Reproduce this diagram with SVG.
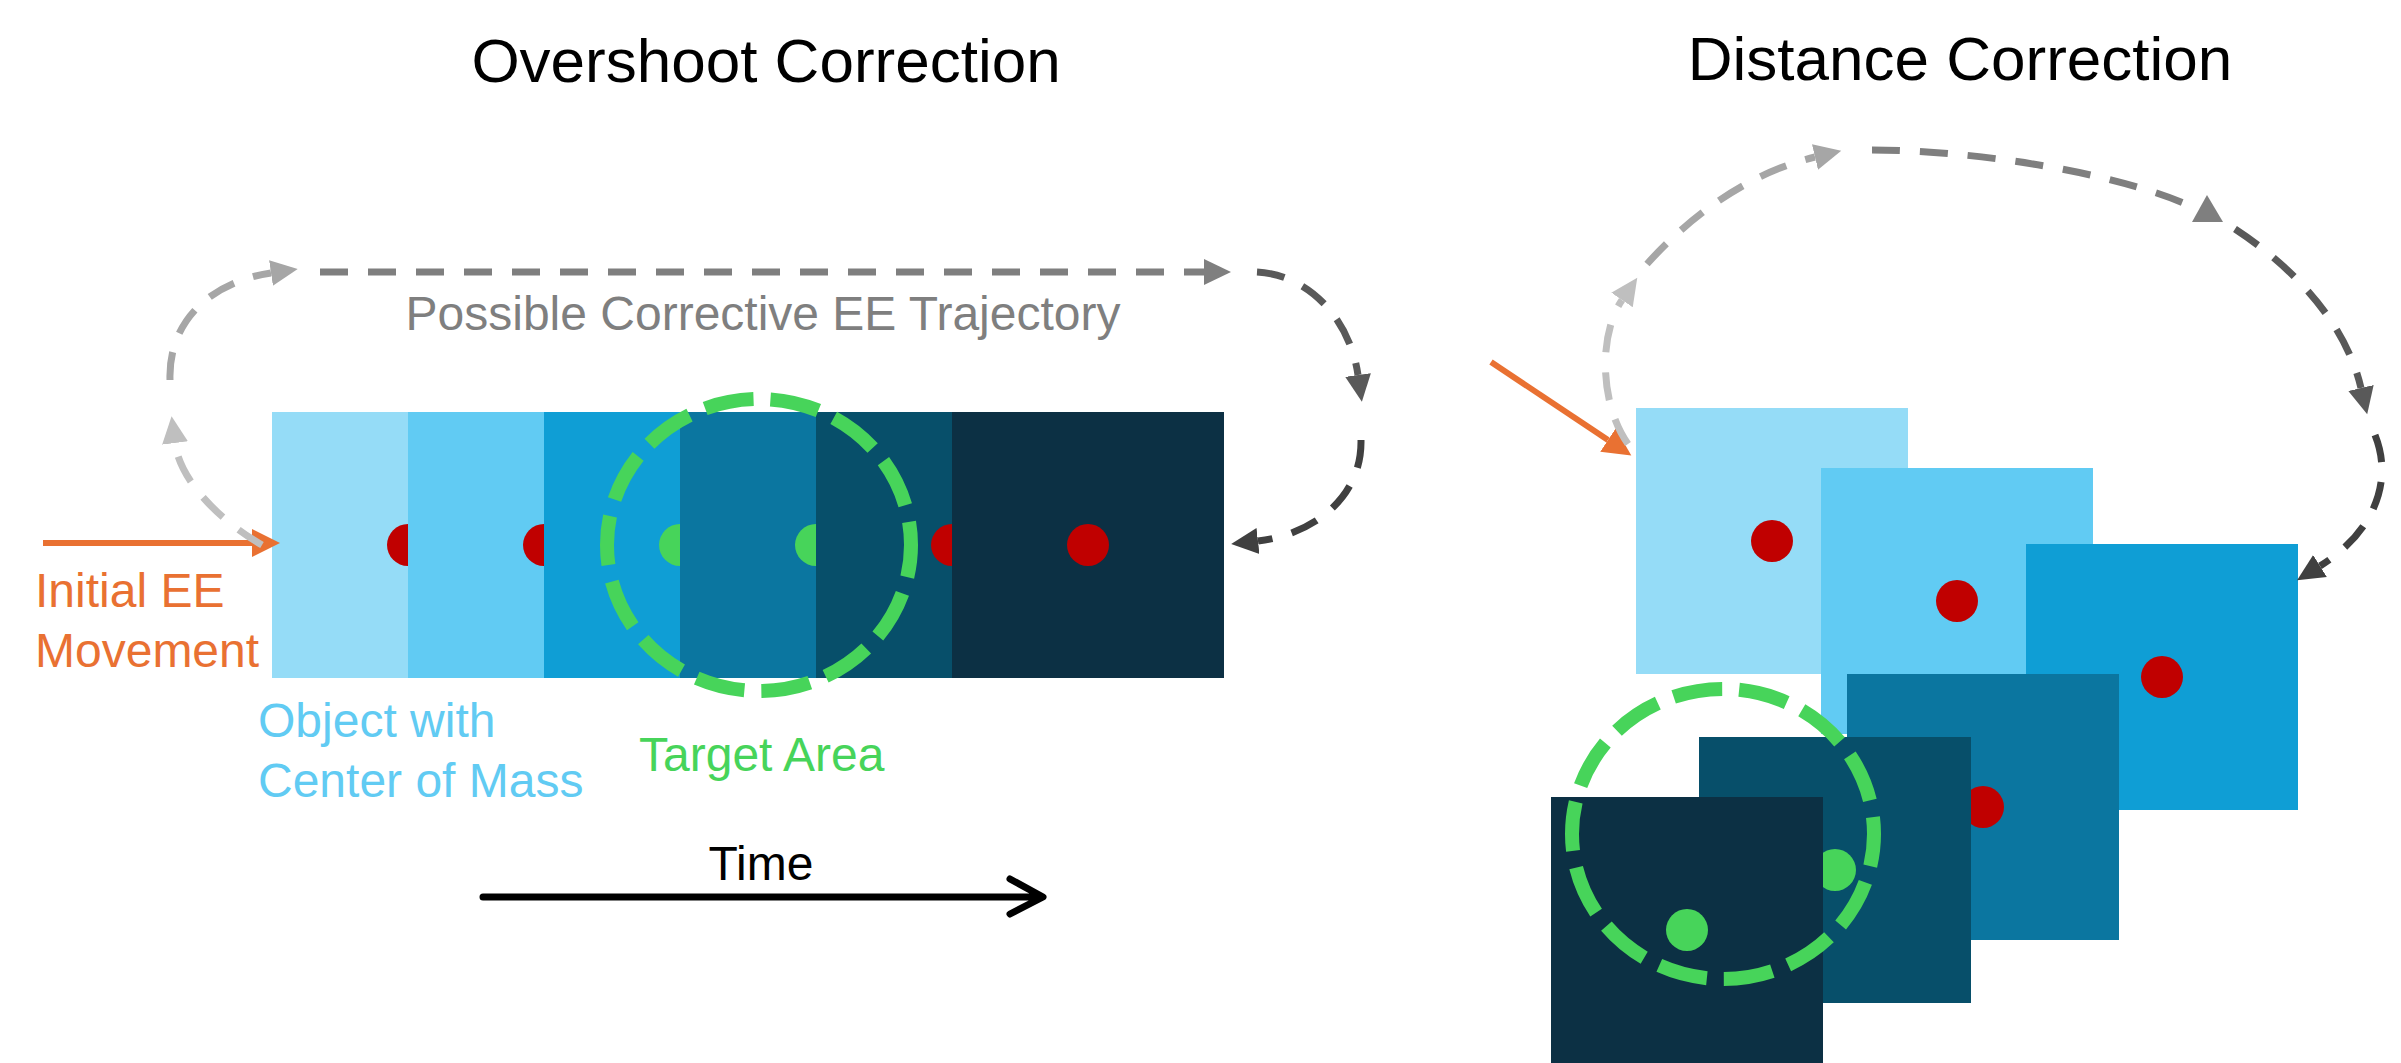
<svg xmlns="http://www.w3.org/2000/svg" width="2401" height="1063" viewBox="0 0 2401 1063">
<style>
  text { font-family: "Liberation Sans", Arial, sans-serif; }
  .title { font-size: 62px; fill: #000; text-anchor: middle; }
  .lbl { font-size: 48px; }
  .c1 { fill: #95DCF7; } .c2 { fill: #61CBF3; } .c3 { fill: #0F9ED5; }
  .c4 { fill: #0B76A0; } .c5 { fill: #074F6A; } .c6 { fill: #0C3044; }
  .red { fill: #C00000; } .grn { fill: #47D45A; }
  .target { fill: none; stroke: #47D45A; stroke-width: 14; stroke-dasharray: 49.4 17; stroke-dashoffset: 17; }
  .traj { fill: none; stroke-width: 7; stroke-dasharray: 28 20; }
  .g1 { stroke: #BFBFBF; } .g2 { stroke: #A6A6A6; } .g3 { stroke: #7F7F7F; } .g4 { stroke: #595959; } .g5 { stroke: #404040; }
  .orange { fill: none; stroke: #E97132; stroke-width: 6; }
</style>
<defs>
  <marker id="aG1" markerUnits="userSpaceOnUse" viewBox="0 -14 28 28" refX="0" refY="0" markerWidth="28" markerHeight="28" orient="auto"><path d="M0,-13 L27,0 L0,13 z" fill="#BFBFBF"/></marker>
  <marker id="aG2" markerUnits="userSpaceOnUse" viewBox="0 -14 28 28" refX="0" refY="0" markerWidth="28" markerHeight="28" orient="auto"><path d="M0,-13 L27,0 L0,13 z" fill="#A6A6A6"/></marker>
  <marker id="aG3" markerUnits="userSpaceOnUse" viewBox="0 -14 28 28" refX="0" refY="0" markerWidth="28" markerHeight="28" orient="auto"><path d="M0,-13 L27,0 L0,13 z" fill="#7F7F7F"/></marker>
  <marker id="aG4" markerUnits="userSpaceOnUse" viewBox="0 -14 28 28" refX="0" refY="0" markerWidth="28" markerHeight="28" orient="auto"><path d="M0,-13 L27,0 L0,13 z" fill="#595959"/></marker>
  <marker id="aG5" markerUnits="userSpaceOnUse" viewBox="0 -14 28 28" refX="0" refY="0" markerWidth="28" markerHeight="28" orient="auto"><path d="M0,-13 L27,0 L0,13 z" fill="#404040"/></marker>
  <marker id="aOr" markerUnits="userSpaceOnUse" viewBox="0 -15 30 30" refX="0" refY="0" markerWidth="30" markerHeight="30" orient="auto"><path d="M0,-14 L28,0 L0,14 z" fill="#E97132"/></marker>
</defs>
<rect width="2401" height="1063" fill="#FFFFFF"/>

<!-- Titles -->
<text id="title-overshoot" class="title" x="766" y="82">Overshoot Correction</text>
<text id="title-distance" class="title" x="1960" y="80">Distance Correction</text>

<!-- Overshoot panel objects -->
<g id="ov-obj1"><rect class="c1" x="272" y="412" width="272" height="266"/><circle class="red" cx="408" cy="545" r="21"/></g>
<g id="ov-obj2"><rect class="c2" x="408" y="412" width="272" height="266"/><circle class="red" cx="544" cy="545" r="21"/></g>
<g id="ov-obj3"><rect class="c3" x="544" y="412" width="272" height="266"/><circle class="grn" cx="680" cy="545" r="21"/></g>
<g id="ov-obj4"><rect class="c4" x="680" y="412" width="272" height="266"/><circle class="grn" cx="816" cy="545" r="21"/></g>
<g id="ov-obj5"><rect class="c5" x="816" y="412" width="272" height="266"/><circle class="red" cx="952" cy="545" r="21"/></g>
<g id="ov-obj6"><rect class="c6" x="952" y="412" width="272" height="266"/><circle class="red" cx="1088" cy="545" r="21"/></g>
<g id="ov-target"><ellipse class="target" cx="759" cy="545" rx="152" ry="146"/></g>

<!-- Distance panel objects -->
<g id="di-obj1"><rect class="c1" x="1636" y="408" width="272" height="266"/><circle class="red" cx="1772" cy="541" r="21"/></g>
<g id="di-obj2"><rect class="c2" x="1821" y="468" width="272" height="266"/><circle class="red" cx="1957" cy="601" r="21"/></g>
<g id="di-obj3"><rect class="c3" x="2026" y="544" width="272" height="266"/><circle class="red" cx="2162" cy="677" r="21"/></g>
<g id="di-obj4"><rect class="c4" x="1847" y="674" width="272" height="266"/><circle class="red" cx="1983" cy="807" r="21"/></g>
<g id="di-obj5"><rect class="c5" x="1699" y="737" width="272" height="266"/><circle class="grn" cx="1835" cy="870" r="21"/></g>
<g id="di-obj6"><rect class="c6" x="1551" y="797" width="272" height="266"/><circle class="grn" cx="1687" cy="930" r="21"/></g>
<g id="di-target"><ellipse class="target" cx="1723" cy="834" rx="151" ry="145"/></g>

<!-- Labels -->
<g id="lbl-initial"><text class="lbl" x="35" y="607" fill="#E97132">Initial EE</text><text class="lbl" x="35" y="667" fill="#E97132">Movement</text></g>
<g id="lbl-object"><text class="lbl" x="258" y="737" fill="#61CBF3">Object with</text><text class="lbl" x="258" y="797" fill="#61CBF3">Center of Mass</text></g>
<text id="lbl-target" class="lbl" x="639" y="771" fill="#47D45A">Target Area</text>
<text id="lbl-traj" class="lbl" x="763" y="330" fill="#7F7F7F" text-anchor="middle">Possible Corrective EE Trajectory</text>
<text id="lbl-time" class="lbl" x="761" y="880" fill="#000" text-anchor="middle">Time</text>

<!-- Connectors -->
<g id="connectors">
  <!-- overshoot -->
  <path class="orange" d="M43,543 L252,543" marker-end="url(#aOr)"/>
  <path class="traj g1" d="M262,545 C222,522 180,482 175,443" marker-end="url(#aG1)"/>
  <path class="traj g2" d="M170,380 C168,322 210,282 271,273" marker-end="url(#aG2)"/>
  <path class="traj g3" d="M320,272 L1204,272" marker-end="url(#aG3)"/>
  <path class="traj g4" d="M1257,272 C1310,275 1350,320 1358,375" marker-end="url(#aG4)"/>
  <path class="traj g5" d="M1361,440 C1362,500 1310,535 1258,541" marker-end="url(#aG5)"/>
  <path d="M483,897 L1040,897 M1010,879 L1043,897 L1010,914" fill="none" stroke="#000" stroke-width="7" stroke-linecap="round" stroke-linejoin="round"/>
  <!-- distance -->
  <path class="orange" d="M1491,362 L1608,440" marker-end="url(#aOr)"/>
  <path class="traj g1" d="M1628,444 C1600,405 1598,335 1622,300" marker-end="url(#aG1)"/>
  <path class="traj g2" d="M1647,264 C1700,205 1760,170 1815,157" marker-end="url(#aG2)"/>
  <path class="traj g3" d="M1872,150 C1960,150 2100,168 2186,204"/>
  <path d="M2207,195 L2192,222 L2223,222 z" fill="#7F7F7F"/>
  <path class="traj g4" d="M2235,229 C2290,265 2345,320 2361,388" marker-end="url(#aG4)"/>
  <path class="traj g5" d="M2375,435 C2395,485 2370,535 2320,566" marker-end="url(#aG5)"/>
</g>
</svg>
